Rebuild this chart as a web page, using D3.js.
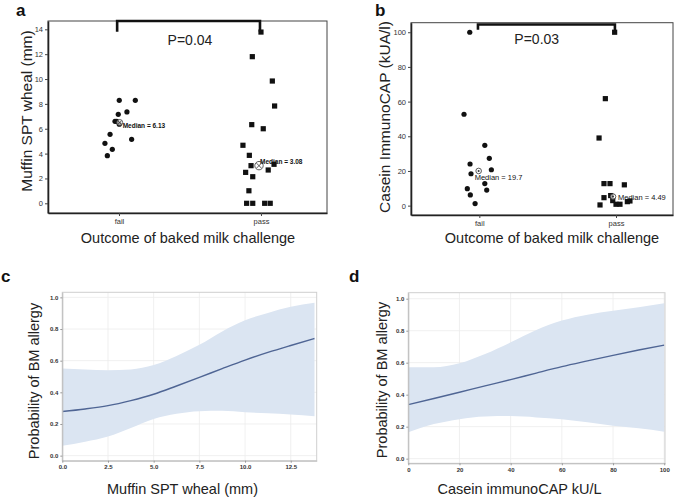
<!DOCTYPE html>
<html><head><meta charset="utf-8">
<script src="https://cdn.jsdelivr.net/npm/d3@7"></script>
<style>
body{margin:0;background:#fff}
text{font-family:"Liberation Sans",Arial,sans-serif}
</style>
</head><body>
<svg id="chart" width="685" height="501"></svg>
<script>
// ---------- DATA ----------
const categories = ["fail", "pass"];

// Panel a: Muffin SPT wheal (mm)
const sptFail = [8.29, 8.29, 7.35, 7.16, 6.6, 6.6, 6.36, 5.55, 5.15, 4.83, 4.34, 3.83];
const sptFailJitter = [0.002, 0.115, 0.056, -0.005, -0.028, -0.016, 0.002, -0.063, 0.089, -0.099, -0.047, -0.082];
const sptPass = [13.78, 11.8, 9.84, 7.83, 6.33, 6.0, 4.67, 3.86, 3.14, 3.03, 2.68, 2.49, 2.14, 1.01, 0, 0, 0, 0];
const sptPassJitter = [0, -0.061, 0.080, 0.096, -0.065, 0.016, -0.127, -0.082, 0.092, -0.070, 0.051, -0.108, -0.058, -0.085, -0.101, -0.058, 0.026, 0.065];
const sptMedianLabels = ["Median = 6.13", "Median = 3.08"];
const sptMedianMarks = [6.5, 3.03];
const sptMedianJitter = [0.005, -0.014];
const sptTicks = [0, 2, 4, 6, 8, 10, 12, 14];
const sptP = "P=0.04";

// Panel b: Casein ImmunoCAP (kUA/l)
const casFail = [100, 52.7, 34.8, 27.3, 24.0, 20.7, 18.4, 12.7, 9.8, 9.0, 6.2, 1.2];
const casFailJitter = [-0.070, -0.112, 0.040, 0.073, -0.068, 0.088, -0.061, 0.040, -0.088, 0.054, -0.066, -0.031];
const casPass = [100, 61.7, 39, 12.7, 12.7, 12, 5.8, 4.6, 2.9, 0.8, 0.8, 0.4, 2.3, 2.7];
const casPassJitter = [-0.010, -0.078, -0.124, -0.088, -0.044, 0.061, -0.039, -0.088, -0.024, 0.0, 0.029, -0.117, 0.083, 0.102];
const casMedianLabels = ["Median = 19.7", "Median = 4.49"];
const casMedianMarks = [20, 5.2];
const casMedianJitter = [-0.005, -0.022];
const casTicks = [0, 20, 40, 60, 80, 100];
const casP = "P=0.03";

// Panel c: probability vs Muffin SPT wheal
const cX = [0, 1.25, 2.5, 3.75, 5.0, 6.25, 7.5, 8.75, 10, 11.25, 12.5, 13.8];
const cFit = [0.279, 0.295, 0.316, 0.348, 0.388, 0.440, 0.494, 0.550, 0.604, 0.652, 0.696, 0.740];
const cUpper = [0.551, 0.545, 0.540, 0.545, 0.572, 0.630, 0.700, 0.785, 0.855, 0.902, 0.940, 0.966];
const cLower = [0.062, 0.088, 0.121, 0.175, 0.232, 0.264, 0.281, 0.283, 0.274, 0.268, 0.260, 0.249];
const cXTicks = [0, 2.5, 5, 7.5, 10, 12.5];

// Panel d: probability vs Casein immunoCAP
const dX = [0, 10, 20, 30, 40, 50, 60, 70, 80, 90, 100];
const dFit = [0.338, 0.376, 0.415, 0.455, 0.494, 0.535, 0.575, 0.611, 0.646, 0.679, 0.710];
const dUpper = [0.571, 0.571, 0.596, 0.654, 0.727, 0.804, 0.863, 0.900, 0.925, 0.946, 0.971];
const dLower = [0.165, 0.216, 0.247, 0.264, 0.266, 0.258, 0.247, 0.227, 0.206, 0.190, 0.169];
const dXTicks = [0, 20, 40, 60, 80, 100];
const probTicks = [0, 0.2, 0.4, 0.6, 0.8, 1.0];

// ---------- DRAW ----------
const svg = d3.select("#chart");

function panelLetter(t, x, y) {
  svg.append("text").attr("x", x).attr("y", y).text(t)
    .attr("font-size", 17).attr("font-weight", "bold").attr("fill", "#111");
}

function catPanel(cfg) {
  const x = d3.scaleLinear().domain(cfg.xDom).range([cfg.l, cfg.r]);
  const y = d3.scaleLinear().domain(cfg.yDom).range([cfg.b, cfg.t]);
  svg.append("rect").attr("x", cfg.l).attr("y", cfg.t)
    .attr("width", cfg.r - cfg.l).attr("height", cfg.b - cfg.t)
    .attr("fill", "none").attr("stroke", "#444").attr("stroke-width", 1);

  const ya = svg.append("g").attr("transform", `translate(${cfg.l},0)`)
    .call(d3.axisLeft(y).tickValues(cfg.yTicks).tickSize(3).tickSizeOuter(0).tickFormat(d3.format("d")));
  const xa = svg.append("g").attr("transform", `translate(0,${cfg.b})`)
    .call(d3.axisBottom(x).tickValues([0, 1]).tickSize(3).tickSizeOuter(0).tickFormat(i => categories[i]));
  [ya, xa].forEach(a => {
    a.select(".domain").attr("stroke", "#222").attr("stroke-width", 1.6);
    a.selectAll(".tick line").attr("stroke", "#444");
    a.selectAll(".tick text").attr("font-size", 7.5).attr("fill", "#333")
      .attr("font-family", "'DejaVu Sans Condensed','DejaVu Sans',sans-serif");
  });
  ya.selectAll(".tick text").attr("x", -5);
  xa.selectAll(".tick text").attr("y", 6);

  // bracket
  const bx0 = x(cfg.bracket[0]), bx1 = x(cfg.bracket[1]);
  const by = y(cfg.bracketTop), byL = y(cfg.bracketEnds[0]), byR = y(cfg.bracketEnds[1]);
  svg.append("path")
    .attr("d", `M${bx0},${byL}V${by}H${bx1}V${byR}`)
    .attr("fill", "none").attr("stroke", "#111").attr("stroke-width", 2.6);
  svg.append("text").attr("x", x(cfg.pPos[0])).attr("y", y(cfg.pPos[1]))
    .attr("text-anchor", "middle").attr("font-size", 14).attr("fill", "#222").text(cfg.pText);

  // points
  svg.append("g").selectAll("circle").data(cfg.fail).join("circle")
    .attr("cx", (d, i) => x(0 + cfg.failJ[i])).attr("cy", d => y(d))
    .attr("r", 2.6).attr("fill", "#111");
  svg.append("g").selectAll("rect").data(cfg.pass).join("rect")
    .attr("x", (d, i) => x(1 + cfg.passJ[i]) - 2.6).attr("y", d => y(d) - 2.6)
    .attr("width", 5.2).attr("height", 5.2).attr("fill", "#111");

  // median markers
  cfg.medMarks.forEach((m, i) => {
    const cx = x(i + cfg.medJ[i]), cy = y(m);
    const r = cfg.medR[i];
    svg.append("circle").attr("cx", cx).attr("cy", cy).attr("r", r)
      .attr("fill", "#fff").attr("fill-opacity", 0.6).attr("stroke", "#333").attr("stroke-width", 0.8);
    if (cfg.medStyle === "x") {
      const k = r * 0.6;
      svg.append("path").attr("d", `M${cx - k},${cy - k}L${cx + k},${cy + k}M${cx - k},${cy + k}L${cx + k},${cy - k}`)
        .attr("stroke", "#333").attr("stroke-width", 0.8);
    } else {
      svg.append("circle").attr("cx", cx).attr("cy", cy).attr("r", 1).attr("fill", "#333");
    }
    svg.append("text").attr("x", cx + cfg.medLabelDx[i]).attr("y", cy + cfg.medLabelDy[i])
      .attr("font-size", cfg.medFont).attr("fill", "#111").attr("font-weight", cfg.medWeight)
      .attr("font-family", "'DejaVu Sans Condensed','DejaVu Sans',sans-serif")
      .text(cfg.medLabels[i]);
  });

  // axis titles
  svg.append("text").attr("transform", `translate(${cfg.yLab[0]},${cfg.yLab[1]}) rotate(-90)`)
    .attr("text-anchor", "middle").attr("font-size", cfg.yLabSize).attr("fill", "#222").text(cfg.yTitle);
  svg.append("text").attr("x", cfg.xLab[0]).attr("y", cfg.xLab[1])
    .attr("text-anchor", "middle").attr("font-size", 14.5).attr("fill", "#222").text(cfg.xTitle);
}

catPanel({
  l: 48, r: 327, t: 21, b: 213,
  xDom: [-0.5, 1.465], yDom: [-0.78, 14.67], yTicks: sptTicks,
  fail: sptFail, failJ: sptFailJitter, pass: sptPass, passJ: sptPassJitter,
  medMarks: sptMedianMarks, medJ: sptMedianJitter, medLabels: sptMedianLabels,
  medR: [3, 4.2], medStyle: "x", medLabelDx: [3, 1], medLabelDy: [5, -2], medFont: 6.5, medWeight: "bold",
  bracket: [-0.013, 0.993], bracketTop: 14.67, bracketEnds: [13.8, 13.8],
  pPos: [0.5, 12.75], pText: sptP,
  yLab: [32, 111], yLabSize: 15.5, yTitle: "Muffin SPT wheal (mm)",
  xLab: [188, 243], xTitle: "Outcome of baked milk challenge"
});

catPanel({
  l: 411, r: 673, t: 22.7, b: 215,
  xDom: [-0.5, 1.417], yDom: [-5.4, 105.5], yTicks: casTicks,
  fail: casFail, failJ: casFailJitter, pass: casPass, passJ: casPassJitter,
  medMarks: casMedianMarks, medJ: casMedianJitter, medLabels: casMedianLabels,
  medR: [2.8, 2.8], medStyle: "dot", medLabelDx: [-4, 5], medLabelDy: [9, 3], medFont: 7.5, medWeight: "normal",
  bracket: [-0.01, 0.992], bracketTop: 104.5, bracketEnds: [101.5, 99.5],
  pPos: [0.42, 93], pText: casP,
  yLab: [390, 117], yLabSize: 15.5, yTitle: "Casein ImmunoCAP (kUA/l)",
  xLab: [552, 243], xTitle: "Outcome of baked milk challenge"
});

function probPanel(cfg) {
  const x = d3.scaleLinear().domain(cfg.xDom).range([cfg.l, cfg.r]);
  const y = d3.scaleLinear().domain(cfg.yDom).range([cfg.b, cfg.t]);
  const grid = svg.append("g");
  grid.selectAll("line.v").data(cfg.xTicks).join("line")
    .attr("x1", d => x(d)).attr("x2", d => x(d)).attr("y1", cfg.t).attr("y2", cfg.b)
    .attr("stroke", "#ececec").attr("stroke-width", 0.8);
  grid.selectAll("line.h").data(probTicks).join("line")
    .attr("x1", cfg.l).attr("x2", cfg.r).attr("y1", d => y(d)).attr("y2", d => y(d))
    .attr("stroke", "#ececec").attr("stroke-width", 0.8);

  const pts = cfg.xs.map((v, i) => ({x: v, f: cfg.fit[i], u: cfg.up[i], lo: cfg.lo[i]}));
  svg.append("path").datum(pts)
    .attr("d", d3.area().x(d => x(d.x)).y0(d => y(d.lo)).y1(d => y(d.u)).curve(d3.curveMonotoneX))
    .attr("fill", "#dbe5f2");
  svg.append("path").datum(pts)
    .attr("d", d3.line().x(d => x(d.x)).y(d => y(d.f)).curve(d3.curveMonotoneX))
    .attr("fill", "none").attr("stroke", "#4f6594").attr("stroke-width", 1.4);

  svg.append("rect").attr("x", cfg.l).attr("y", cfg.t)
    .attr("width", cfg.r - cfg.l).attr("height", cfg.b - cfg.t)
    .attr("fill", "none").attr("stroke", "#cfcfcf").attr("stroke-width", 1);

  const ya = svg.append("g").attr("transform", `translate(${cfg.l},0)`)
    .call(d3.axisLeft(y).tickValues(probTicks).tickSize(2).tickSizeOuter(0).tickFormat(d3.format(".1f")));
  const xa = svg.append("g").attr("transform", `translate(0,${cfg.b})`)
    .call(d3.axisBottom(x).tickValues(cfg.xTicks).tickSize(2).tickSizeOuter(0).tickFormat(cfg.xFmt));
  [ya, xa].forEach(a => {
    a.select(".domain").attr("stroke", "#bbb");
    a.selectAll(".tick line").attr("stroke", "#999");
    a.selectAll(".tick text").attr("font-size", 6).attr("fill", "#333").attr("font-weight", "bold")
      .attr("font-family", "'DejaVu Sans Condensed','DejaVu Sans',sans-serif");
  });
  ya.selectAll(".tick text").attr("x", -4);
  xa.selectAll(".tick text").attr("y", 4);

  svg.append("text").attr("transform", `translate(${cfg.yLab[0]},${cfg.yLab[1]}) rotate(-90)`)
    .attr("text-anchor", "middle").attr("font-size", 14.5).attr("fill", "#222").text("Probability of BM allergy");
  svg.append("text").attr("x", cfg.xLab[0]).attr("y", cfg.xLab[1])
    .attr("text-anchor", "middle").attr("font-size", 14.5).attr("fill", "#222").text(cfg.xTitle);
}

probPanel({
  l: 62.3, r: 316.7, t: 292.3, b: 460.7,
  xDom: [0, 13.92], yDom: [-0.032, 1.032],
  xs: cX, fit: cFit, up: cUpper, lo: cLower, xTicks: cXTicks, xFmt: d3.format(".1f"),
  yLab: [39, 381], xLab: [182.5, 494], xTitle: "Muffin SPT wheal (mm)"
});

probPanel({
  l: 408.3, r: 665, t: 292.7, b: 463.3,
  xDom: [0, 100.3], yDom: [-0.029, 1.0375],
  xs: dX, fit: dFit, up: dUpper, lo: dLower, xTicks: dXTicks, xFmt: d3.format("d"),
  yLab: [387, 380], xLab: [519.5, 494], xTitle: "Casein immunoCAP kU/L"
});

panelLetter("a", 16, 16);
panelLetter("b", 375, 16);
panelLetter("c", 1, 282);
panelLetter("d", 349, 282);
</script>
</body></html>
